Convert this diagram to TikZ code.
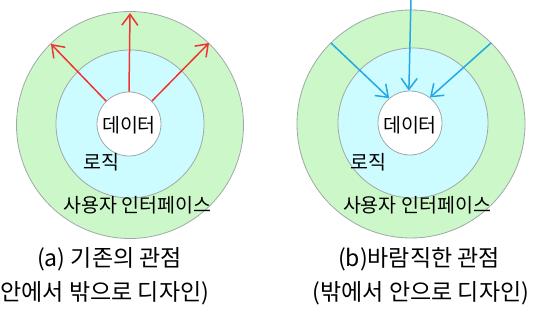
\documentclass[tikz,border=0pt]{standalone}
\usepackage{fontspec}
\setmainfont{Noto Sans CJK KR}
\usetikzlibrary{arrows.meta}
\definecolor{ringgreen}{HTML}{CCF7C8}
\definecolor{ringcyan}{HTML}{CCFCFF}
\definecolor{ringline}{HTML}{A0A8A8}
\definecolor{arrred}{HTML}{F03434}
\definecolor{arrblue}{HTML}{22A8E6}
\tikzset{
  outerring/.style={circle, draw=ringline, line width=0.8pt, fill=ringgreen, minimum size=#1, inner sep=0pt},
  midring/.style={circle, draw=ringline, line width=0.8pt, fill=ringcyan, minimum size=#1, inner sep=0pt},
  innerring/.style={circle, draw=ringline, line width=0.8pt, fill=white, minimum size=#1, inner sep=0pt},
  lbl/.style={font=\fontsize{19.5}{22}\selectfont, inner sep=0pt},
  captxt/.style={font=\fontsize{23}{26}\selectfont, inner sep=0pt},
  redarr/.style={draw=arrred, line width=1.5pt, -{Straight Barb[length=11pt,width=16pt,line width=1.5pt]}},
  bluearr/.style={draw=arrblue, line width=1.5pt, -{Straight Barb[length=11pt,width=16pt,line width=1.5pt]}},
}
\begin{document}
\begin{tikzpicture}[x=1pt,y=1pt]
\useasboundingbox (0,0) rectangle (550,321);
% left diagram
\node[outerring=227pt] (lo) at (130,196) {};
\node[midring=148pt] (lm) at (130,197) {};
\node[innerring=64pt] (li) at (129,197) {};
\node[lbl] (ldata) at (129,196) {데이터};
\node[lbl] (llogic) at (101,159) {로직};
\node[lbl] (lui) at (137.5,116) {사용자 인터페이스};
\coordinate (la1) at (51,277);
\coordinate (la2) at (130,308);
\coordinate (la3) at (209,278);
\draw[redarr] (li.135) -- (la1);
\draw[redarr] (li.90) -- (la2);
\draw[redarr] (li.45) -- (la3);
% right diagram
\node[outerring=228pt] (ro) at (411,197) {};
\node[midring=150pt] (rm) at (413,198) {};
\node[innerring=64pt] (ri) at (410,198) {};
\node[lbl] (rdata) at (410,196) {데이터};
\node[lbl] (rlogic) at (368,159) {로직};
\node[lbl] (rui) at (417,116) {사용자 인터페이스};
\coordinate (rb1) at (331,278);
\coordinate (rb2) at (411,322);
\coordinate (rb3) at (491,278);
\draw[bluearr] (rb1) -- (ri.130);
\draw[bluearr] (rb2) -- (ri.92);
\draw[bluearr] (rb3) -- (ri.52);
% captions
\node[captxt] (capa) at (109.5,62) {(a) 기존의 관점};
\node[captxt] (capb) at (419,62) {(b)바람직한 관점};
\node[captxt] (suba) at (101,28) {(안에서 밖으로 디자인)};
\node[captxt] (subb) at (421,28) {(밖에서 안으로 디자인)};
\end{tikzpicture}
\end{document}
